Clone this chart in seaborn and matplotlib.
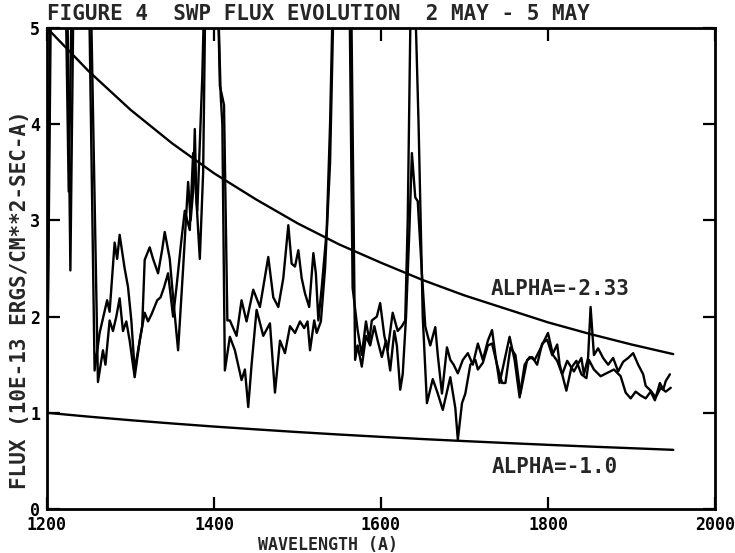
import matplotlib
matplotlib.use("Agg")
import matplotlib.pyplot as plt
import seaborn as sns

# spectrum 1 (values above 5 run off the top of the plot)
wl_a = [1200, 1205, 1222, 1226, 1230, 1250, 1257, 1263, 1272, 1275, 1281, 1284, 1287,
        1293, 1297, 1301, 1305, 1314, 1317, 1323, 1327, 1333, 1338, 1341, 1347, 1351,
        1357, 1363, 1369, 1372, 1375, 1377, 1379, 1383, 1387, 1390, 1404, 1407, 1412,
        1416, 1419, 1427, 1433, 1439, 1447, 1455, 1465, 1471, 1477, 1483, 1489, 1493,
        1497, 1501, 1505, 1509, 1514, 1519, 1522, 1525, 1529, 1535, 1539, 1543, 1562,
        1566, 1572, 1577, 1582, 1586, 1589, 1595, 1599, 1604, 1608, 1614, 1620, 1625,
        1629, 1632, 1636, 1640, 1645, 1650, 1655, 1662, 1668, 1674, 1683, 1689, 1692,
        1697, 1701, 1707, 1713, 1716, 1722, 1728, 1733, 1739, 1745, 1749, 1755, 1761,
        1767, 1775, 1781, 1787, 1793, 1799, 1805, 1811, 1814, 1822, 1828, 1834, 1840,
        1846, 1849, 1855, 1863, 1872, 1879, 1887, 1893, 1899, 1905, 1911, 1917, 1923,
        1928, 1934, 1938, 1941, 1946]
flux_a = [1.0, 5.6, 5.6, 3.3, 5.6, 5.6, 1.44, 1.83, 2.17, 2.05, 2.77, 2.6, 2.85,
          2.5, 2.31, 1.96, 1.44, 1.9, 2.59, 2.72, 2.6, 2.45, 2.7, 2.88, 2.6, 2.2,
          1.65, 2.5, 3.4, 3.0, 3.3, 3.95, 3.2, 2.6, 3.5, 5.6, 5.6, 4.4, 4.2,
          1.96, 1.96, 1.8, 2.17, 1.95, 2.28, 2.1, 2.62, 2.2, 2.1, 2.4, 2.95, 2.55,
          2.52, 2.69, 2.4, 2.24, 2.1, 2.66, 2.45, 1.96, 2.3, 2.9, 4.0, 5.6, 5.6,
          2.3, 1.86, 1.6, 1.95, 1.75, 1.96, 2.0, 2.14, 1.8, 1.65, 2.04, 1.85, 1.9,
          1.96, 3.0, 5.6, 5.6, 4.0, 2.0, 1.1, 1.35, 1.2, 1.03, 1.37, 1.05, 0.72,
          1.1, 1.2, 1.5, 1.55, 1.45, 1.52, 1.7, 1.72, 1.5, 1.31, 1.31, 1.68, 1.6,
          1.2, 1.55, 1.58, 1.5, 1.72, 1.76, 1.6, 1.71, 1.5, 1.23, 1.47, 1.54, 1.4,
          1.36, 1.55, 1.45, 1.38, 1.42, 1.45, 1.38, 1.21, 1.15, 1.22, 1.18, 1.15, 1.22,
          1.13, 1.31, 1.24, 1.33, 1.4]

# spectrum 2
wl_b = [1200, 1204, 1224, 1228, 1232, 1252, 1261, 1267, 1270, 1275, 1279, 1283, 1287,
        1291, 1295, 1299, 1305, 1311, 1317, 1321, 1325, 1332, 1336, 1340, 1345, 1351,
        1355, 1361, 1365, 1371, 1375, 1380, 1386, 1389, 1404, 1408, 1410, 1413, 1419,
        1425, 1433, 1437, 1441, 1445, 1451, 1459, 1467, 1473, 1479, 1485, 1491, 1497,
        1503, 1508, 1512, 1515, 1520, 1523, 1528, 1533, 1539, 1544, 1564, 1569, 1572,
        1577, 1582, 1587, 1592, 1596, 1601, 1606, 1611, 1616, 1619, 1623, 1626, 1630,
        1634, 1637, 1641, 1644, 1649, 1653, 1655, 1659, 1665, 1668, 1673, 1679, 1683,
        1687, 1692, 1698, 1704, 1710, 1716, 1722, 1728, 1733, 1737, 1742, 1748, 1754,
        1760, 1766, 1772, 1778, 1784, 1790, 1796, 1800, 1806, 1811, 1817, 1823, 1831,
        1840, 1843, 1848, 1851, 1855, 1860, 1866, 1872, 1878, 1884, 1890, 1896, 1902,
        1908, 1914, 1917, 1923, 1929, 1935, 1941, 1947]
flux_b = [1.0, 5.6, 5.6, 2.48, 5.6, 5.6, 1.32, 1.65, 1.5, 1.96, 1.85, 2.0, 2.19,
          1.85, 1.95, 1.75, 1.37, 1.75, 2.04, 1.95, 2.02, 2.17, 2.2, 2.3, 2.45, 2.0,
          2.3, 2.8, 3.1, 2.9, 3.7, 3.1, 4.5, 5.6, 5.6, 4.3, 4.0, 1.44, 1.79,
          1.65, 1.34, 1.45, 1.06, 1.5, 2.07, 1.8, 1.93, 1.21, 1.75, 1.62, 1.9, 1.83,
          1.95, 1.88, 1.95, 1.65, 1.96, 1.83, 1.95, 2.5, 3.6, 5.6, 5.6, 1.55, 1.7,
          1.48, 1.8, 1.7, 1.9, 1.75, 1.58, 1.75, 1.44, 1.85, 1.7, 1.24, 1.4, 2.0,
          2.9, 3.7, 3.24, 3.2, 2.45, 1.9, 1.83, 1.7, 1.89, 1.6, 1.2, 1.68, 1.55,
          1.5, 1.41, 1.55, 1.62, 1.5, 1.72, 1.55, 1.75, 1.86, 1.6, 1.31, 1.55, 1.79,
          1.55, 1.16, 1.5, 1.58, 1.55, 1.65, 1.76, 1.83, 1.6, 1.54, 1.4, 1.54, 1.43,
          1.57, 1.4, 1.57, 2.1, 1.6, 1.67, 1.57, 1.5, 1.57, 1.43, 1.53, 1.57, 1.62,
          1.5, 1.4, 1.28, 1.23, 1.16, 1.26, 1.22, 1.26]

# power-law reference curves, read every 50 A
wl_model = [1200, 1250, 1300, 1350, 1400, 1450, 1500, 1550, 1600, 1650, 1700, 1750,
            1800, 1850, 1900, 1950]
flux_alpha233 = [5.0, 4.55, 4.15, 3.8, 3.49, 3.22, 2.97, 2.75, 2.56, 2.38, 2.22, 2.08,
                 1.94, 1.82, 1.71, 1.61]
flux_alpha1 = [1.0, 0.96, 0.923, 0.889, 0.857, 0.828, 0.8, 0.774, 0.75, 0.727, 0.706,
               0.686, 0.667, 0.649, 0.632, 0.615]

sns.set_style("ticks")
plt.rcParams['font.family'] = ['DejaVu Sans Mono', 'DejaVu Sans']
plt.rcParams['font.weight'] = 'bold'

fig = plt.figure(figsize=(7.35, 5.53), dpi=100)
ax = fig.add_axes([47 / 735, 1 - 509 / 553, 668 / 735, 481 / 553])

for wl, fl in [(wl_a, flux_a), (wl_b, flux_b),
               (wl_model, flux_alpha233), (wl_model, flux_alpha1)]:
    sns.lineplot(x=wl, y=fl, ax=ax, color='black', lw=1.7,
                 estimator=None, sort=False)

ax.set_xlim(1200, 2000)
ax.set_ylim(0, 5)
ax.set_xticks([1200, 1400, 1600, 1800, 2000])
ax.set_yticks([0, 1, 2, 3, 4, 5])
ax.tick_params(direction='in', length=9, width=1.6, top=True, right=True,
               labelsize=12, pad=5, colors='black')
for s in ax.spines.values():
    s.set_linewidth(2)
    s.set_color('black')

ax.text(1731, 2.29, 'ALPHA=-2.33', fontsize=15, ha='left', va='center')
ax.text(1733, 0.44, 'ALPHA=-1.0', fontsize=15, ha='left', va='center')

fig.text(47 / 735, 1 - 20 / 553, 'FIGURE 4  SWP FLUX EVOLUTION  2 MAY - 5 MAY',
         fontsize=15, ha='left', va='baseline')
fig.text(328 / 735, 1 - 545 / 553, 'WAVELENGTH (A)', fontsize=12,
         ha='center', va='center')
fig.text(20 / 735, 1 - 300 / 553, 'FLUX (10E-13 ERGS/CM**2-SEC-A)', fontsize=15,
         rotation=90, ha='center', va='center')

fig.savefig('out.png', dpi=100, facecolor='white')
